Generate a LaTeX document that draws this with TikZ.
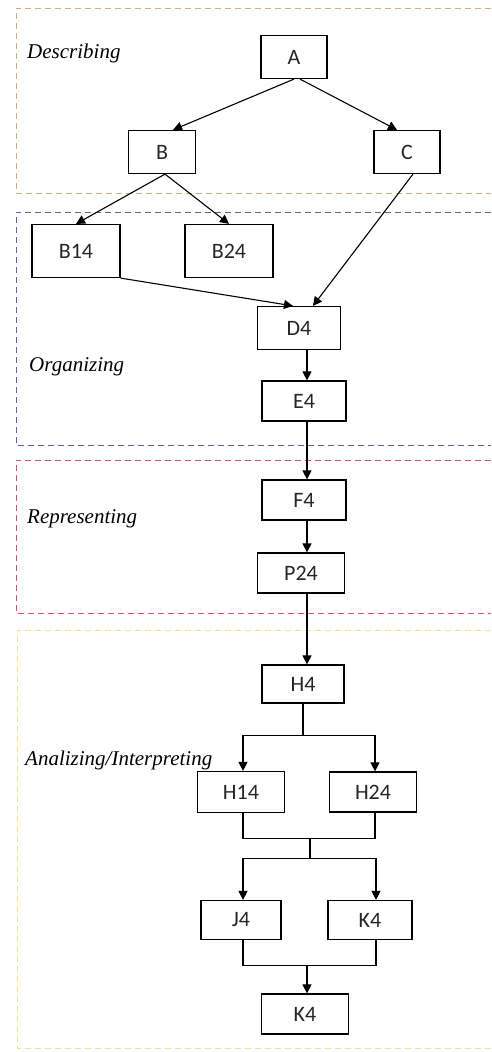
\documentclass[tikz,border=0pt]{standalone}
\usepackage{fontspec}
\usepackage{xcolor}
\setmainfont{Carlito}
\newfontfamily\labelfont{Liberation Serif}
\usetikzlibrary{calc,arrows.meta}

\definecolor{descbrown}{RGB}{214,172,118}
\definecolor{orgblue}{RGB}{96,96,168}
\definecolor{repred}{RGB}{214,80,110}
\definecolor{anayellow}{RGB}{238,228,140}

\tikzset{
	box/.style={draw, line width=1.2pt, fill=white, minimum width=84pt, minimum height=40pt,
		inner sep=0pt, font=\fontsize{22}{26}\selectfont, text=black!85},
	arr/.style={line width=1.1pt, -{Triangle[length=9pt,width=9pt]}},
	lin/.style={line width=1.1pt},
	frame/.style={line width=1pt, dash pattern=on 6pt off 4pt},
	stage/.style={anchor=west, inner sep=0pt, font=\labelfont\itshape\fontsize{21}{24}\selectfont}
}

\begin{document}
\begin{tikzpicture}[x=1pt, y=-1pt]
			\useasboundingbox (0,0) rectangle (491,1052);
			
			% 四个阶段的虚线框（右侧开口）
			\draw[frame, descbrown] (491,8) -| (16,193) -- (491,193);
			\draw[frame, orgblue] (491,212) -| (16,445) -- (491,445);
			\draw[frame, repred] (491,460) -| (16,613) -- (491,613);
			\draw[frame, anayellow] (491,630) -| (17,1048) -- (491,1048);
			
			% 阶段名称
			\node[stage] (lblDesc) at (27,53) {Describing};
			\node[stage] (lblOrg) at (29,367) {Organizing};
			\node[stage] (lblRep) at (27,519) {Representing};
			\node[stage] (lblAna) at (25,760) {Analizing/Interpreting};
			
			% 上部节点
			\node[box, minimum width=66pt, minimum height=43pt] (A) at (294,57) {A};
			\node[box, minimum width=67pt, minimum height=43pt] (B) at (162,152) {B};
			\node[box, minimum width=66pt, minimum height=43pt] (C) at (407,152) {C};
			\node[box, minimum width=88pt, minimum height=53pt] (B14) at (76,251) {B14};
			\node[box, minimum width=88pt, minimum height=53pt] (B24) at (229,251) {B24};
			\node[box, minimum width=83pt, minimum height=43pt] (D4) at (299,328) {D4};
			
			% 中间一列
			\node[box] (E4) at (304,401) {E4};
			\node[box] (F4) at (304,500) {F4};
			\node[box, minimum width=87pt] (P24) at (301,573) {P24};
			\node[box, minimum width=82pt, minimum height=38pt] (H4) at (303,684) {H4};
			
			% 下部节点
			\node[box, minimum width=87pt, minimum height=41pt] (H14) at (241,792) {H14};
			\node[box, minimum width=87pt] (H24) at (373,792) {H24};
			\node[box, minimum width=80pt, minimum height=39pt] (J4) at (241,920) {J4};
			\node[box, minimum height=39pt] (K4) at (370,920) {K4};
			\node[box, minimum width=87pt] (K4b) at (305,1014) {K4};
			
			% 箭头：描述阶段
			\draw[arr] (A.south) -- ([xshift=11pt]B.north);
			\draw[arr] ([xshift=6pt]A.south) -- ([xshift=-10pt]C.north);
			\draw[arr] ([xshift=3pt]B.south) -- (B14.north);
			\draw[arr] ([xshift=3pt]B.south) -- (B24.north);
			\draw[arr] ([xshift=6pt]C.south) -- ([xshift=14pt]D4.north);
			\draw[arr] (B14.south east) -- ([xshift=-6pt]D4.north);
			
			% 箭头：竖直一列
			\draw[arr] ([xshift=8pt]D4.south) -- ([xshift=3pt]E4.north);
			\draw[arr] ([xshift=3pt]E4.south) -- ([xshift=3pt]F4.north);
			\draw[arr] ([xshift=3pt]F4.south) -- ([xshift=6pt]P24.north);
			\draw[arr] ([xshift=6pt]P24.south) -- ([xshift=4pt]H4.north);
			
			% 分叉与汇合
			\draw[lin] (H4.south) -- ++(0,32) coordinate (hfork);
			\draw[arr] (hfork) -| ([xshift=2pt]H14.north);
			\draw[arr] (hfork) -| ([xshift=2pt]H24.north);
			\draw[lin] ([xshift=2pt]H14.south) -- ++(0,25) coordinate (hjoin) -| ([xshift=2pt]H24.south);
			\draw[lin] ($(hjoin)+(67,0)$) coordinate (hmid) -- ++(0,20) coordinate (jfork);
			\draw[arr] (jfork) -| ([xshift=2pt]J4.north);
			\draw[arr] (jfork) -| ([xshift=6pt]K4.north);
			\draw[lin] ([xshift=2pt]J4.south) -- ++(0,25) coordinate (kjoin) -| ([xshift=6pt]K4.south);
			\draw[arr] (kjoin -| K4b.north) ++(2pt,0) -- ([xshift=2pt]K4b.north);
		\end{tikzpicture}
\end{document}
